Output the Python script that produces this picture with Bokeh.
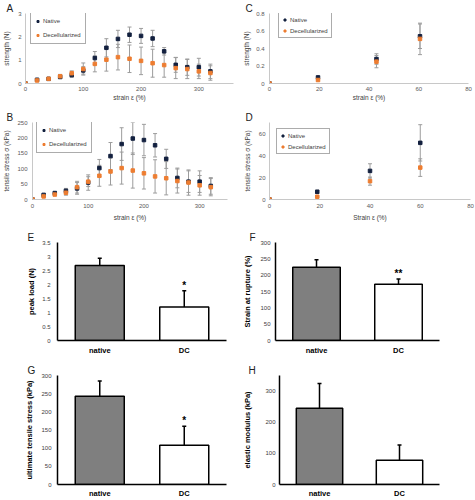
from bokeh.plotting import figure
from bokeh.models import Range1d, FactorRange, Legend, LegendItem, FixedTicker, PrintfTickFormatter
from bokeh.layouts import column, row
from bokeh.embed import file_html
from bokeh.resources import INLINE
from bokeh.core.properties import value

# ---------------- data ----------------
strain_ab = [0, 20, 40, 60, 80, 100, 120, 140, 160, 180, 200, 220, 240, 260, 280, 300, 320]
strength_native = [0, 0.16, 0.20, 0.28, 0.36, 0.56, 1.09, 1.53, 1.91, 2.09, 2.04, 1.93, 1.38, 0.80, 0.70, 0.70, 0.52]
strength_native_sd = [0, 0.02, 0.03, 0.07, 0.09, 0.16, 0.28, 0.39, 0.37, 0.33, 0.32, 0.35, 0.16, 0.32, 0.35, 0.38, 0.31]
strength_decell = [0, 0.13, 0.20, 0.31, 0.44, 0.62, 0.84, 1.02, 1.13, 1.06, 0.97, 0.87, 0.79, 0.66, 0.62, 0.52, 0.45]
strength_decell_sd = [0, 0.02, 0.03, 0.08, 0.10, 0.26, 0.34, 0.49, 0.55, 0.59, 0.59, 0.60, 0.52, 0.45, 0.41, 0.31, 0.31]

stress_native = [0, 15, 21, 28, 36, 55, 102, 141, 180, 198, 193, 176, 132, 70, 58, 58, 44]
stress_native_sd = [0, 2, 3, 8, 19, 25, 28, 44, 53, 52, 51, 38, 31, 32, 35, 35, 27]
stress_decell = [0, 10, 16, 22, 40, 58, 77, 91, 102, 94, 85, 75, 69, 60, 55, 46, 40]
stress_decell_sd = [0, 2, 3, 8, 19, 16, 34, 44, 52, 57, 51, 54, 54, 39, 41, 32, 28]

strain_c = [0, 19.5, 43, 60.5]
strength_c_native = [0, 0.07, 0.28, 0.54]
strength_c_native_sd = [0, 0.01, 0.06, 0.14]
strength_c_decell = [0, 0.04, 0.25, 0.51]
strength_c_decell_sd = [0, 0.01, 0.07, 0.18]

strain_d = [0, 19, 40, 60]
stress_d_native = [0, 7, 26, 51.5]
stress_d_native_sd = [0, 1.5, 6.5, 16.5]
stress_d_decell = [0, 2.5, 16.7, 29]
stress_d_decell_sd = [0, 0.5, 3.7, 8]

groups = ["native", "DC"]
peak_load = [2.68, 1.20]
peak_load_sd = [0.26, 0.58]
rupture_strain = [224, 172]
rupture_strain_sd = [23, 16]
uts = [243, 108]
uts_sd = [42, 52]
modulus = [245, 78]
modulus_sd = [79, 49]
sig_e = ["", "*"]
sig_f = ["", "**"]
sig_g = ["", "*"]
sig_h = ["", ""]

# ---------------- style ----------------
FONT = "Liberation Sans"
NAVY = "#13203f"
ORANGE = "#ed7d31"
ERR = "#9c9c9c"
TITLE_H = 13


def base_fig(box, frame, xr, yr, let, lx):
    bx0, by0, bx1, by1 = box
    fx0, fy0, fx1, fy1 = frame
    top = max(fy0 - by0, TITLE_H)
    p = figure(width=bx1 - bx0, height=by1 - by0,
               min_border_left=fx0 - bx0, min_border_right=bx1 - fx1,
               min_border_top=top, min_border_bottom=by1 - fy1,
               x_range=xr, y_range=yr, output_backend="svg", toolbar_location=None)
    p.outline_line_color = None
    p.xgrid.visible = False
    p.ygrid.visible = False
    p.title.text = let
    p.title.align = "left"
    p.title.offset = lx - fx0
    p.title.standoff = 0
    p.title.text_font = FONT
    p.title.text_font_size = "10px"
    p.title.text_font_style = "normal"
    p.title.text_color = "#222222"
    for ax in (p.xaxis[0], p.yaxis[0]):
        ax.major_tick_out = 0
        ax.major_tick_in = 0
        ax.minor_tick_out = 0
        ax.minor_tick_in = 0
        ax.major_tick_line_color = None
        ax.minor_tick_line_color = None
        ax.major_label_text_font = FONT
        ax.axis_label_text_font = FONT
    return p, top


def scatter_panel(box, frame, x, yn, en, yd, ed, xmax, ymax, xstep, ystep, xlabel, ylabel,
                  let, lx, leg_box, leg_small, xs, ys):
    p, top = base_fig(box, frame, Range1d(0, xmax), Range1d(0, ymax), let, lx)
    for yv, ev in ((yn, en), (yd, ed)):
        lo = [a - b for a, b in zip(yv, ev)]
        hi = [a + b for a, b in zip(yv, ev)]
        p.segment(x0=x, y0=lo, x1=x, y1=hi, line_color=ERR, line_width=1)
        p.scatter(x=x + x, y=lo + hi, marker="dash", size=4, line_color=ERR, line_width=1)
    rn = p.scatter(x=x, y=yn, marker="square", size=3.5, fill_color=NAVY, line_color=NAVY)
    rd = p.scatter(x=x, y=yd, marker="square", size=3.5, fill_color=ORANGE, line_color=ORANGE)
    xa, ya = p.xaxis[0], p.yaxis[0]
    xa.ticker = FixedTicker(ticks=list(range(0, int(xmax) + 1, xstep)))
    n = int(round(ymax / ystep))
    ya.ticker = FixedTicker(ticks=[round(i * ystep, 6) for i in range(n + 1)])
    ya.formatter = PrintfTickFormatter(format="%g")
    for ax in (xa, ya):
        ax.axis_line_color = "#c8c8c8"
        ax.major_label_text_font_size = "6px"
        ax.major_label_text_color = "#595959"
        ax.axis_label_text_font_size = "6.5px"
        ax.axis_label_text_font_style = "normal"
        ax.axis_label_text_color = "#404040"
    xa.axis_label = xlabel
    ya.axis_label = ylabel
    xa.major_label_standoff = xs[0]
    xa.axis_label_standoff = xs[1]
    ya.major_label_standoff = ys[0]
    ya.axis_label_standoff = ys[1]
    bx0, by0, bx1, by1 = box
    fx0, fy0, fx1, fy1 = frame
    lx0, ly0, lx1, ly1 = leg_box
    leg = Legend(items=[LegendItem(label="Native", renderers=[rn]),
                        LegendItem(label="Decellularized", renderers=[rd])])
    leg.border_line_color = "#595959"
    leg.border_line_width = 1
    leg.label_text_font = FONT
    leg.label_text_font_size = "6px"
    leg.label_text_color = "#404040"
    leg.glyph_width = 5
    leg.label_standoff = 3
    leg.margin = 0
    if leg_small:
        leg.glyph_height = 7
        leg.label_height = 7
        leg.spacing = 4
        leg.padding = 3
        leg_h = 24
    else:
        leg.glyph_height = 8
        leg.label_height = 8
        leg.spacing = 6
        leg.padding = 4
        leg_h = 30
    frame_top = by0 + top
    frame_h = fy1 - frame_top
    dy = max(1, ly0 - frame_top)
    leg.location = (lx0 - fx0, frame_h - dy - leg_h)
    p.add_layout(leg)
    return p


def bar_panel(box, frame, vals, errs, ymax, ystep, ylabel, stars, let, lx, ys, xs):
    p, _ = base_fig(box, frame, FactorRange(*groups), Range1d(0, ymax), let, lx)
    p.vbar(x=groups, top=vals, width=0.58, fill_color=["#7f7f7f", "#ffffff"],
           line_color="black", line_width=1.5)
    tops = [v + e for v, e in zip(vals, errs)]
    p.segment(x0=groups, y0=vals, x1=groups, y1=tops, line_color="black", line_width=1.5)
    p.scatter(x=groups, y=tops, marker="dash", size=4, line_color="black", line_width=1.5)
    p.text(x=groups, y=tops, text=stars, text_align="center", text_baseline="bottom",
           text_font=value(FONT), text_font_size="10px", text_font_style="bold", text_color="black")
    xa, ya = p.xaxis[0], p.yaxis[0]
    n = int(round(ymax / ystep))
    ya.ticker = FixedTicker(ticks=[round(i * ystep, 6) for i in range(n + 1) if i * ystep <= ymax + 1e-9])
    ya.formatter = PrintfTickFormatter(format="%g")
    for ax in (xa, ya):
        ax.axis_line_color = "black"
        ax.axis_line_width = 1.5
    ya.major_label_text_font_size = "6px"
    ya.major_label_text_color = "#404040"
    ya.major_label_standoff = ys[0]
    ya.axis_label = ylabel
    ya.axis_label_text_font_size = "7.5px"
    ya.axis_label_text_font_style = "bold"
    ya.axis_label_text_color = "black"
    ya.axis_label_standoff = ys[1]
    xa.major_label_text_font_size = "7.5px"
    xa.major_label_text_font_style = "bold"
    xa.major_label_text_color = "black"
    xa.major_label_standoff = xs
    return p


pA = scatter_panel((0, 0, 240, 103), (21, 6, 233, 83), strain_ab, strength_native, strength_native_sd,
                   strength_decell, strength_decell_sd, 360, 3, 100, 1, "strain ε (%)",
                   "strength (N)", "A", 2, (26, 6, 74, 37), False, (3, 0), (4, 5))
pC = scatter_panel((240, 0, 475, 103), (265, 6, 468, 83), strain_c, strength_c_native,
                   strength_c_native_sd, strength_c_decell, strength_c_decell_sd, 80, 0.8, 20, 0.2,
                   "strain ε (%)", "strength (N)", "C", 241, (274, 5, 322, 29), True, (3, 0), (5, 3))
pB = scatter_panel((0, 103, 240, 225), (27, 122, 227, 199), strain_ab, stress_native, stress_native_sd,
                   stress_decell, stress_decell_sd, 350, 250, 100, 50, "strain ε (%)",
                   "tensile stress σ (kPa)", "B", 1, (31, 122, 81, 152), False, (4, 3), (5, 4))
pD = scatter_panel((240, 103, 475, 225), (265, 122, 470, 199), strain_d, stress_d_native,
                   stress_d_native_sd, stress_d_decell, stress_d_decell_sd, 80, 70, 20, 20,
                   "Strain ε (%)", "tensile stress σ (kPa)", "D", 241, (272, 130, 319, 154), True,
                   (4, 3), (4, 5))
pE = bar_panel((0, 225, 240, 360), (57, 242, 226, 341), peak_load, peak_load_sd, 3.5, 0.5,
               "peak load (N)", sig_e, "E", 27, (7, 3), 5)
pF = bar_panel((240, 225, 475, 360), (269, 242, 439, 340), rupture_strain, rupture_strain_sd, 300, 50,
               "Strain at rupture (%)", sig_f, "F", 243, (5, 5), 5)
pG = bar_panel((0, 360, 240, 500), (57, 375, 226, 486), uts, uts_sd, 300, 50,
               "ultimate tensile stress (kPa)", sig_g, "G", 27, (6, 4), 4)
pH = bar_panel((240, 360, 475, 500), (271, 375, 439, 486), modulus, modulus_sd, 350, 100,
               "elastic modulus (kPa)", sig_h, "H", 240, (4, 10), 4)

layout = column(row(pA, pC), row(pB, pD), row(pE, pF), row(pG, pH))
open("out.html", "w").write(file_html(layout, INLINE))
